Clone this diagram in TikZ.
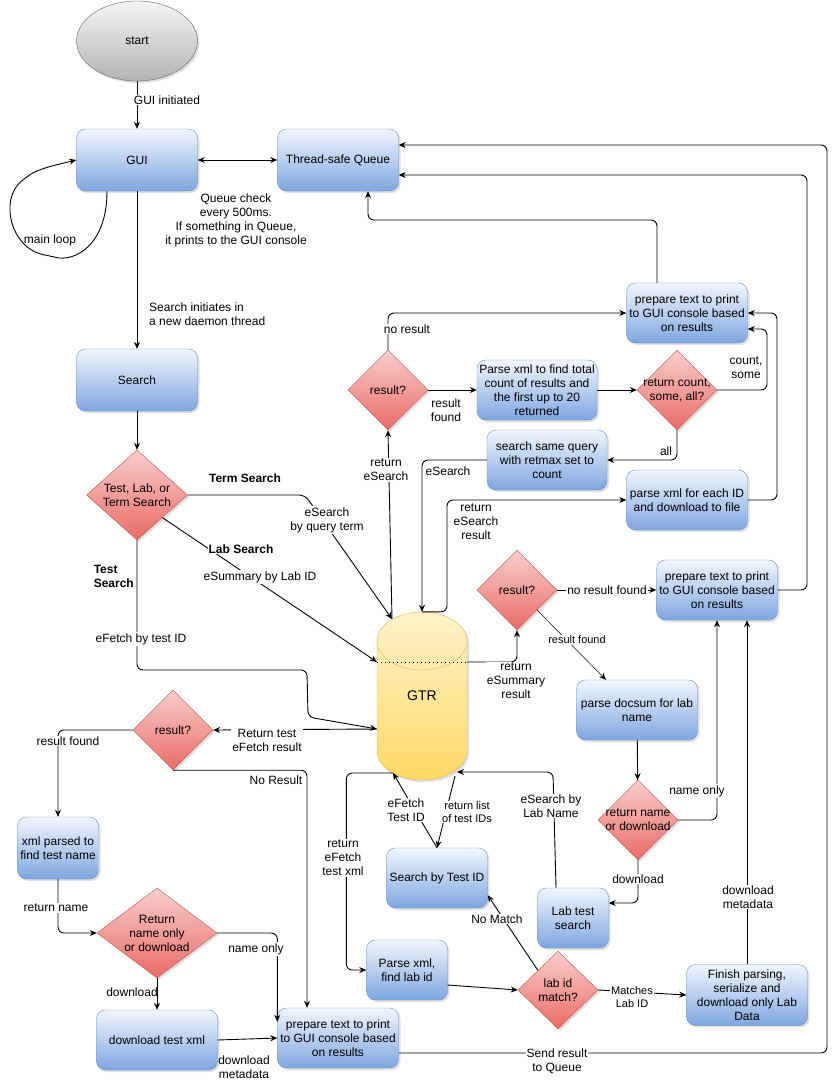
\documentclass[tikz,border=0pt]{standalone}
\usepackage{fontspec}
\setmainfont{Liberation Sans}
\usetikzlibrary{shapes.geometric,arrows.meta,shadows}
\definecolor{boxtop}{RGB}{242,246,253}
\definecolor{boxmid}{RGB}{180,203,240}
\definecolor{boxbot}{RGB}{126,166,224}
\definecolor{boxline}{RGB}{108,142,191}
\definecolor{dectop}{RGB}{248,206,204}
\definecolor{decbot}{RGB}{234,107,102}
\definecolor{decline}{RGB}{184,84,80}
\definecolor{cyltop}{RGB}{255,242,204}
\definecolor{cylbot}{RGB}{255,217,102}
\definecolor{cylline}{RGB}{214,182,86}
\definecolor{starttop}{RGB}{245,245,245}
\definecolor{startbot}{RGB}{179,179,179}
\definecolor{startline}{RGB}{102,102,102}

\begin{document}
\begin{tikzpicture}[x=1pt, y=-1pt, font=\fontsize{12}{14}\selectfont,
    >={Stealth[length=7pt,width=6pt]},
    shade/.style={drop shadow={shadow xshift=2pt, shadow yshift=-2pt, opacity=0.25}},
    startnode/.style={ellipse, draw=startline, top color=starttop, bottom color=startbot, shade,
        minimum width=121pt, minimum height=80pt},
    proc/.style={rectangle, rounded corners=9pt, draw=boxline, top color=boxtop, middle color=boxmid,
        bottom color=boxbot, shade, align=center, inner sep=0pt, minimum height=60pt},
    decide/.style={diamond, draw=decline, top color=dectop, bottom color=decbot, shade,
        aspect=1, inner sep=0pt, align=center},
    dtext/.style={align=center},
    flow/.style={->, line width=0.9pt, rounded corners=6pt},
    elabel/.style={fill=white, inner sep=1pt, align=center},
    plain/.style={inner sep=1pt, align=center},
    small/.style={font=\fontsize{11}{12.5}\selectfont}]
    \useasboundingbox (0,0) rectangle (837,1090);

    % Start and GUI thread.
    \node[startnode] (start) at (137,41) {start};
    \node[proc, minimum width=121pt, minimum height=62pt] (gui) at (137,160) {GUI};
    \node[proc, minimum width=121pt, minimum height=62pt] (queue) at (338,160) {Thread-safe Queue};
    \node[proc, minimum width=121pt, minimum height=62pt] (search) at (137,380) {Search};
    \node[decide, minimum width=101pt, minimum height=90pt,
        label={[dtext]center:Test, Lab, or\\Term Search}] (choice) at (137,495) {};

    % GTR database.
    \path[draw=cylline, top color=cyltop, bottom color=cylbot, shade]
        (377,641) -- (377,751) arc[start angle=180, end angle=360, x radius=45pt, y radius=29pt]
        -- (467,641) arc[start angle=0, end angle=180, x radius=45pt, y radius=29pt] -- cycle;
    \draw[cylline] (377,641) arc[start angle=180, end angle=360, x radius=45pt, y radius=29pt];
    \node[minimum width=90pt, minimum height=168pt, inner sep=0pt, font=\fontsize{14}{16}\selectfont]
        (gtr) at (422,696) {GTR};
    \coordinate (gtrA) at (392,619);
    \coordinate (gtrB) at (377,662);
    \coordinate (gtrC) at (377,729);
    \coordinate (gtrD) at (393,773);
    \coordinate (gtrE) at (457,772);
    \coordinate (gtrF) at (467,662);
    \coordinate (gtrG) at (455,776);

    % Term search branch.
    \node[decide, minimum width=80pt, minimum height=80pt] (res1) at (388,390) {result?};
    \node[proc, minimum width=120pt] (parsecount) at (537,390)
        {Parse xml to find total\\count of results and\\the first up to 20\\returned};
    \node[decide, minimum width=80pt, minimum height=80pt,
        label={[dtext]center:return count,\\some, all?}] (retcount) at (677,390) {};
    \node[proc, minimum width=121pt] (prep1) at (687,313) {prepare text to print\\to GUI console based\\on results};
    \node[proc, minimum width=120pt] (sameq) at (547,460) {search same query\\with retmax set to\\count};
    \node[proc, minimum width=121pt] (parseids) at (687,500) {parse xml for each ID\\and download to file};

    % Lab search branch.
    \node[decide, minimum width=80pt, minimum height=80pt] (res2) at (517,590) {result?};
    \node[proc, minimum width=121pt] (prep2) at (717,590) {prepare text to print\\to GUI console based\\on results};
    \node[proc, minimum width=121pt] (docsum) at (637,710) {parse docsum for lab\\name};
    \node[decide, minimum width=80pt, minimum height=80pt,
        label={[dtext]center:return name\\or download}] (retname) at (638,820) {};
    \node[proc, minimum width=71pt] (labsearch) at (573,918) {Lab test\\search};
    \node[proc, minimum width=101pt] (bytest) at (437,878) {Search by Test ID};
    \node[proc, minimum width=81pt] (parselab) at (407,970) {Parse xml,\\find lab id};
    \node[decide, minimum width=80pt, minimum height=78pt] (labmatch) at (558,990) {lab id\\match?};
    \node[proc, minimum width=121pt, minimum height=61pt] (finish) at (747,995)
        {Finish parsing,\\serialize and\\download only Lab\\Data};

    % Test search branch.
    \node[decide, minimum width=80pt, minimum height=80pt] (res3) at (173,730) {result?};
    \node[proc, minimum width=81pt, minimum height=62pt] (xmlname) at (58,848) {xml parsed to\\find test name};
    \node[decide, minimum width=120pt, minimum height=90pt,
        label={[dtext]center:Return\\name only\\or download}] (retname2) at (157,933) {};
    \node[proc, minimum width=121pt] (dltest) at (157,1040) {download test xml};
    \node[proc, minimum width=121pt] (prep3) at (338,1038) {prepare text to print\\to GUI console based\\on results};

    % Connectors at the top.
    \draw[flow] (start) -- (gui);
    \node[elabel] (lguiinit) at (167,100) {GUI initiated};
    \draw[flow, <->] (gui) -- (queue);
    \node[plain] (lqcheck) at (236,220) {Queue check\\every 500ms.\\If something in Queue,\\it prints to the GUI console};
    \draw[flow] ([xshift=-30pt]gui.south) .. controls (107,245) and (75,262) .. (50,256)
        .. controls (10,248) and (0,200) .. (25,178) .. controls (40,168) and (60,164) .. (gui.west);
    \node[plain] (lmainloop) at (50,240) {main loop};
    \draw[flow] (gui) -- (search);
    \node[plain, anchor=west, align=left] (lsearchinit) at (148,314) {Search initiates in\\a new daemon thread};
    \draw[flow] (search) -- (choice);

    % Three kinds of search.
    \node[plain, font=\fontsize{12}{14}\selectfont\bfseries] (ltermS) at (245,478) {Term Search};
    \draw[flow] (choice.east) -- (305,495) -- (gtrA);
    \node[elabel] (lesearch) at (327,520) {eSearch\\by query term};
    \draw[flow] (choice.south east) -- (gtrB);
    \node[elabel, font=\fontsize{12}{14}\selectfont\bfseries] (llabS) at (241,549) {Lab Search};
    \node[elabel] (lesummary) at (260,577) {eSummary by Lab ID};
    \node[plain, anchor=east, align=left, font=\fontsize{12}{14}\selectfont\bfseries] (ltestS) at (135,576) {Test\\Search};
    \draw[flow] (choice.south) -- (137,670) -- (307,670) -- (308,717) -- (gtrC);
    \node[elabel] (lefetch) at (141,639) {eFetch by test ID};

    % Term search results.
    \draw[flow] (gtrA) -- (res1.south);
    \node[elabel] (lretesearch) at (386,470) {return\\eSearch};
    \draw[flow] (res1.north) |- (prep1.west);
    \node[elabel] (lnores1) at (407,329) {no result};
    \draw[flow] (res1.east) -- (parsecount.west);
    \node[plain] (lresfound1) at (446,410) {result\\found};
    \draw[flow] (parsecount.east) -- (retcount.west);
    \draw[flow] (retcount.east) -- (767,390) |- ([yshift=-16pt]prep1.east);
    \node[plain] (lcountsome) at (746,368) {count,\\some};
    \draw[flow] (retcount.south) |- (sameq.east);
    \node[plain] (lall) at (666,451) {all};
    \draw[flow] (sameq.west) -| (gtr.north);
    \node[plain] (lesearch2) at (448,471) {eSearch};
    \draw[flow] (gtr.north) -| (447,500) -- (parseids.west);
    \node[plain] (lretesr) at (476,522) {return\\eSearch\\result};
    \draw[flow] (parseids.east) -- (777,500) |- (prep1.east);
    \draw[flow] ([xshift=-30pt]prep1.north) -- (657,220) -| ([xshift=30pt]queue.south);

    % Lab search results.
    \draw[line width=0.6pt, dash pattern=on 1pt off 3pt] (gtrB) -- (gtrF);
    \draw[flow] (gtrF) -| (res2.south);
    \node[elabel] (lretesum) at (516,681) {return\\eSummary\\result};
    \draw[flow] (res2.east) -- (prep2.west);
    \node[elabel] (lnoresfound) at (607,590) {no result found};
    \draw[->, line width=0.5pt] (res2.south east) -- ([xshift=-31pt]docsum.north);
    \node[elabel, small] (lresfound2) at (577,640) {result found};
    \draw[flow] (prep2.east) -- (807,590) |- ([yshift=-15pt]queue.east);
    \draw[flow] (docsum) -- (retname);
    \draw[flow] (retname.east) -| (prep2.south);
    \node[elabel] (lnameonly1) at (697,791) {name only};
    \draw[flow] (retname.south) |- ([yshift=15pt]labsearch.east);
    \node[elabel] (ldownload1) at (638,879) {download};
    \draw[flow] ([xshift=-17pt]labsearch.north) -- (553,772) -- (gtrE);
    \node[elabel] (leslab) at (551,806) {eSearch by\\Lab Name};
    \draw[flow] (bytest.north) -- (gtrD);
    \node[elabel] (leftest) at (406,810) {eFetch\\Test ID};
    \draw[flow] (gtrG) -- (bytest.north);
    \node[elabel, small] (lretlist) at (467,812) {return list\\of test IDs};
    \draw[flow] (gtrD) -| ([xshift=-20pt]parselab.west) -- (parselab.west);
    \node[elabel] (lretefxml) at (343,858) {return\\eFetch\\test xml};
    \draw[flow] ([yshift=-15pt]parselab.east) -- (labmatch.west);
    \draw[flow] (labmatch.north west) -- ([yshift=13pt]bytest.south east);
    \node[elabel] (lnomatch) at (497,919) {No Match};
    \draw[flow] (labmatch.east) -- (finish.west);
    \node[elabel, small] (lmatches) at (632,997) {Matches\\Lab ID};
    \draw[flow] (finish.north) -- ([xshift=30pt]prep2.south);
    \node[elabel] (ldlmeta1) at (748,897) {download\\metadata};

    % Test search results.
    \draw[flow] (gtrC) -- (res3.east);
    \node[elabel] (lrettest) at (267,740) {Return test\\eFetch result};
    \draw[flow] (res3.west) -| (xmlname.north);
    \node[elabel] (lresfound3) at (68,741) {result found};
    \draw[flow] (res3.south) -| ([xshift=-31pt]prep3.north);
    \node[plain] (lnoresult) at (276,780) {No Result};
    \draw[flow] (xmlname.south) |- (retname2.west);
    \node[elabel] (lretname) at (56,908) {return name};
    \draw[flow] (retname2.east) -| ([yshift=-14pt]prep3.north west);
    \node[elabel] (lnameonly2) at (256,949) {name only};
    \draw[flow] (retname2.south) -- (dltest.north);
    \node[plain] (ldownload2) at (132,992) {download};
    \draw[flow] (dltest.east) -- (prep3.west);
    \node[plain] (ldlmeta2) at (244,1067) {download\\metadata};
    \draw[flow] ([yshift=-15pt]prep3.east) -- (827,1053) -- (827,145) -- ([yshift=15pt]queue.east);
    \node[elabel] (lsendres) at (557,1061) {Send result\\to Queue};
\end{tikzpicture}
\end{document}
